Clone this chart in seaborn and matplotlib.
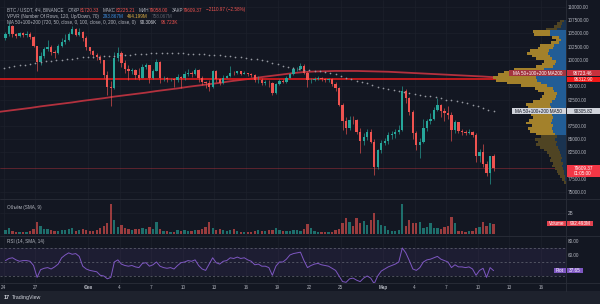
import matplotlib
matplotlib.use("Agg")
import matplotlib.pyplot as plt
import matplotlib.dates as mdates
from matplotlib.patches import Rectangle
from matplotlib.lines import Line2D
import seaborn as sns
import numpy as np
import pandas as pd

# ---------------- data (BTC/USDT) ----------------
# 8h candles starting 2025-01-24 00:00, prices in thousands of USDT
first_open_k = 104.1
close_k = [
    104.9, 106.4, 104.8,  104.6, 105.0, 104.7,  104.9, 104.4, 102.6,  # Jan 24-26
    99.6, 100.8, 102.1,   102.4, 101.4, 101.3,  102.6, 103.4, 103.7,  # Jan 27-29
    104.9, 105.8, 104.7,  105.2, 104.2, 102.4,                        # Jan 30-31
    101.6, 100.9, 100.6,  99.9, 97.2, 94.9,     94.6, 100.4, 101.3,   # Feb 1-3
    99.4, 98.3, 97.9,     98.0, 97.2, 96.6,     98.7, 99.0, 96.5,     # Feb 4-6
    97.9, 99.6, 96.5,     96.6, 96.3, 96.4,     96.1, 96.8, 96.5,     # Feb 7-9
    97.4, 97.6, 97.4,     98.0, 96.6, 95.8,     95.6, 94.9, 97.9,     # Feb 10-12
    96.4, 95.6, 96.6,     96.9, 97.6, 97.5,     97.8, 97.4, 97.6,     # Feb 13-15
    97.3, 97.1, 96.1,     96.2, 95.7, 95.7,     95.6, 93.8, 95.5,     # Feb 16-18
    96.0, 95.9, 96.6,     97.3, 98.2, 98.3,     98.8, 97.6, 96.1,     # Feb 19-21
    96.2, 96.4, 96.6,     96.4, 96.2, 96.3,     95.5, 94.6, 91.5,     # Feb 22-24
    88.4, 87.2, 88.7,     88.6, 86.3, 84.7,     85.5, 86.4, 84.4,     # Feb 25-27
    79.8, 82.9, 84.3,                                                 # Feb 28
    84.6, 85.7, 86.0,     86.4, 86.8, 94.2,     92.7, 90.1, 86.1,     # Mar 1-3
    83.9, 84.5, 87.2,     88.4, 88.9, 90.6,     91.5, 90.3, 89.9,     # Mar 4-6
    89.6, 86.7, 88.2,     86.6, 86.3, 86.2,     86.3, 85.7, 81.9,     # Mar 7-9
    82.6, 80.3, 78.6,     81.72, 79.609,                              # Mar 10-11
]
high_k = [
    105.2, 107.1, 106.6,  105.1, 105.3, 105.2,  105.4, 105.3, 104.6,
    102.7, 101.4, 102.5,  103.8, 102.9, 101.9,  103.0, 104.1, 104.8,
    105.3, 106.5, 106.1,  106.0, 105.5, 104.6,
    102.5, 101.8, 101.3,  100.9, 100.0, 97.9,   96.0, 101.4, 102.5,
    101.6, 99.9, 99.0,    98.4, 98.2, 98.5,     99.2, 99.4, 99.1,
    98.3, 100.1, 99.8,    96.9, 96.8, 96.6,     96.6, 97.3, 97.0,
    97.8, 98.3, 97.9,     98.5, 98.2, 96.9,     96.0, 96.1, 98.1,
    98.0, 96.5, 97.2,     97.2, 98.8, 97.9,     97.9, 97.9, 97.8,
    97.6, 97.6, 97.3,     97.0, 96.5, 96.1,     96.1, 95.8, 95.7,
    96.4, 96.3, 96.9,     97.5, 98.6, 98.7,     99.5, 99.2, 97.9,
    96.6, 96.7, 96.9,     96.8, 96.6, 96.5,     96.5, 95.9, 94.8,
    91.8, 89.2, 89.4,     89.3, 88.9, 87.2,     86.1, 87.0, 86.9,
    85.0, 83.2, 84.8,
    85.2, 86.4, 86.6,     86.9, 87.6, 95.0,     94.4, 92.9, 90.5,
    86.6, 85.3, 88.9,     88.9, 89.9, 91.0,     92.8, 91.6, 90.9,
    91.3, 90.2, 88.6,     88.3, 86.9, 86.7,     86.9, 86.6, 86.2,
    83.2, 84.0, 80.9,     81.9, 82.225,
]
low_k = [
    103.8, 104.6, 104.4,  104.2, 104.4, 104.3,  104.4, 104.0, 102.4,
    97.8, 99.0, 100.4,    101.6, 100.9, 100.3,  101.2, 102.4, 103.0,
    103.6, 104.8, 104.5,  104.6, 103.6, 101.9,
    101.2, 100.3, 99.9,   99.4, 96.6, 93.4,     91.2, 94.5, 99.8,
    98.7, 97.6, 96.2,     97.3, 96.4, 96.1,     96.5, 98.2, 95.7,
    96.3, 97.8, 95.6,     96.0, 95.9, 96.0,     94.9, 95.8, 94.7,
    96.2, 96.9, 96.8,     97.2, 95.8, 95.2,     94.7, 94.1, 94.6,
    95.9, 95.2, 95.4,     96.5, 96.8, 97.1,     97.3, 97.2, 97.3,
    96.9, 96.8, 95.9,     95.6, 95.3, 95.2,     94.9, 93.4, 93.6,
    95.3, 95.6, 95.6,     96.5, 97.2, 97.8,     98.0, 97.4, 94.9,
    95.7, 96.0, 96.2,     96.0, 95.8, 95.9,     95.1, 94.1, 91.2,
    86.7, 86.0, 86.8,     87.9, 85.9, 82.3,     83.9, 84.9, 84.2,
    78.3, 79.4, 82.4,
    83.9, 84.1, 85.0,     85.3, 85.9, 86.5,     91.8, 89.5, 85.0,
    82.9, 81.5, 84.2,     86.6, 87.8, 88.6,     90.4, 89.1, 88.4,
    88.9, 84.7, 86.2,     86.1, 85.8, 85.8,     85.9, 85.4, 80.6,
    80.6, 79.8, 78.0,     76.6, 79.058,
]
volume_b = [  # billions USDT
    0.35, 0.55, 0.3,   0.2, 0.2, 0.15,   0.2, 0.25, 0.5,
    1.15, 0.75, 0.5,   0.45, 0.35, 0.3,  0.3, 0.4, 0.35,
    0.45, 0.55, 0.3,   0.35, 0.5, 0.4,
    0.3, 0.3, 0.35,    0.55, 0.75, 1.0,  2.86, 1.3, 0.7,
    0.9, 0.55, 0.45,   0.4, 0.5, 0.45,   0.55, 0.5, 0.7,
    0.45, 1.15, 0.5,   0.3, 0.25, 0.2,   0.2, 0.35, 0.3,
    0.35, 0.3, 0.3,    0.4, 0.35, 0.5,   0.65, 1.1, 0.55,
    0.4, 0.45, 0.4,    0.3, 0.35, 0.5,   0.3, 0.2, 0.2,
    0.2, 0.2, 0.25,    0.35, 0.3, 0.3,   0.35, 0.4, 0.55,
    0.4, 0.3, 0.25,    0.3, 0.35, 0.4,   0.3, 0.45, 0.95,
    0.6, 0.3, 0.2,     0.15, 0.15, 0.15, 0.2, 0.35, 0.5,
    1.05, 1.5, 1.1,    0.8, 1.5, 1.0,    1.2, 0.9, 1.3,
    2.0, 1.3, 0.9,
    0.8, 0.35, 0.3,    0.3, 0.4, 2.86,   0.8, 1.33, 1.0,
    1.0, 1.17, 0.6,    0.7, 1.0, 0.6,    0.55, 0.5, 0.7,
    0.8, 1.65, 1.0,    0.3, 0.25, 0.2,   0.25, 0.3, 0.6,
    0.7, 1.1, 0.75,    1.0, 0.99,
]
rsi_vals = [
    52, 55, 56,   53, 51, 52,   52, 51, 45,
    28, 39, 41,   42, 40, 43,   47, 56, 60,
    63, 61, 62,   58, 44, 40,
    38, 37, 36,   31, 30, 26,   28, 50, 53,
    47, 45, 44,   45, 43, 42,   48, 49, 44,
    46, 50, 44,   42, 41, 42,   40, 45, 49,
    50, 52, 51,   53, 45, 40,   38, 47, 56,
    49, 47, 51,   52, 56, 55,   57, 55, 56,
    53, 51, 46,   47, 44, 44,   42, 31, 44,
    50, 50, 54,   60, 62, 63,   64, 52, 42,
    45, 47, 48,   46, 45, 44,   41, 38, 30,
    22, 21, 26,   27, 24, 22,   27, 30, 27,
    19, 30, 37,
    40, 43, 45,   47, 50, 70,   63, 52, 40,
    38, 42, 50,   53, 54, 56,   58, 54, 52,
    50, 42, 46,   43, 43, 42,   43, 40, 31,
    38, 41, 28,   42, 37.65,
]
# MA50 (720) plotted as circles, one value per 12h from 2025-01-24 00:00
ma50_k = [
    98.45, 98.6, 98.8, 98.95, 99.1, 99.3, 99.45, 99.6, 99.75, 99.85,
    99.95, 100.05, 100.15, 100.25, 100.35, 100.45, 100.5, 100.55, 100.6, 100.65,
    100.7, 100.8, 100.85, 100.95, 101.0, 101.1, 101.15, 101.2, 101.25, 101.25,
    101.3, 101.3, 101.3, 101.25, 101.25, 101.2, 101.15, 101.1, 101.05, 101.0,
    100.9, 100.85, 100.75, 100.65, 100.55, 100.45, 100.35, 100.25, 100.1, 99.9,
    99.7, 99.45, 99.15, 98.9, 98.6, 98.4, 98.25, 98.15, 98.05, 97.95,
    97.8, 97.7, 97.55, 97.35, 97.0, 96.65, 96.3, 96.05, 95.8, 95.55,
    95.25, 94.95, 94.65, 94.5, 94.35, 94.2, 94.0, 93.75, 93.55, 93.4,
    93.25, 93.1, 92.9, 92.7, 92.5, 92.35, 92.15, 91.95, 91.75, 91.5,
    91.2, 90.85, 90.55, 90.31,
]
# MA200 (720), one value per day (12:00) from 2025-01-23
ma200_k = [
    90.15, 90.4, 90.65, 90.9, 91.2, 91.45, 91.7, 91.95, 92.25,
    92.5, 92.75, 93.05, 93.3, 93.55, 93.8, 94.1, 94.35, 94.6, 94.9,
    95.15, 95.4, 95.65, 95.95, 96.2, 96.45, 96.75, 97.0, 97.25, 97.5,
    97.7, 97.8, 97.85, 97.9, 97.9, 97.9, 97.85, 97.8,
    97.75, 97.65, 97.55, 97.45, 97.35, 97.25, 97.15, 97.05, 96.95, 96.85, 96.72,
]
# volume profile (VPVR), rows from the bottom of the range upwards
vp_low_k = 76.6
vp_row_k = 0.508
vp_up = [0.5, 1, 1.5, 2, 2.5, 3, 4, 3.5, 5, 4.5,
         5, 6, 7, 8, 10, 9, 11, 9, 11, 13,
         14, 13, 15, 14, 13, 14, 16, 17, 15, 16,
         14, 11, 10, 9, 12, 13, 19, 25, 29, 30,
         28, 26, 22, 13, 11, 10, 14, 16, 18, 17,
         13, 12, 7, 5, 7, 16, 16, 9, 5, 4, 2.5]
vp_down = [1.5, 3, 4.5, 6, 6.5, 8, 10, 9.5, 11, 10.5,
           12, 13, 15, 18, 20, 19, 20, 16, 19, 23,
           24, 21, 25, 23, 20, 21, 25, 26, 23, 24,
           19, 15, 14, 13, 16, 18, 26, 34, 41, 43,
           40, 36, 30, 17, 13, 12, 16, 18, 21, 19,
           15, 14, 8, 5, 7, 16, 17, 11, 7, 5, 3.5]
value_area_k = (85.6, 105.8)

level_line = 96312.90
ma200_last = 96723.46
ma50_last = 90305.82
last_close = 79609.37
last_volume_b = 0.992493
last_rsi = 37.65

price_ticks = [110000, 107500, 105000, 102500, 100000, 95000, 92500,
               87500, 85000, 82500, 77500, 75000]
date_ticks = ["2025-01-24", "2025-01-27", "2025-02-01", "2025-02-04", "2025-02-07",
              "2025-02-10", "2025-02-13", "2025-02-16", "2025-02-19", "2025-02-22",
              "2025-02-25", "2025-03-01", "2025-03-04", "2025-03-07", "2025-03-10",
              "2025-03-13", "2025-03-16"]
date_labels = ["24", "27", "Фев", "4", "7", "10", "13", "16", "19", "22", "25",
               "Мар", "4", "7", "10", "13", "16"]

# ---------------- style ----------------
BG = "#131722"
GRID = "#1c202b"
BORDER = "#2a2e39"
TXT = "#b2b5be"
UP = "#26a69a"
DOWN = "#ef5350"
PURPLE = "#7e57c2"

sns.set_theme(style="dark", rc={
    "axes.facecolor": BG, "figure.facecolor": BG, "savefig.facecolor": BG,
    "axes.edgecolor": BG, "grid.color": GRID, "text.color": TXT,
    "xtick.color": TXT, "ytick.color": TXT,
})
plt.rcParams["font.family"] = ["Liberation Sans", "DejaVu Sans"]
FS = 3.3

W, H = 600, 304
fig = plt.figure(figsize=(W / 100, H / 100), dpi=100)


def rect(x0, y0, x1, y1):
    return [x0 / W, 1 - y1 / H, (x1 - x0) / W, (y1 - y0) / H]


ax = fig.add_axes(rect(0, 0, 566, 199))
axv = fig.add_axes(rect(0, 199, 566, 236), sharex=ax)
axr = fig.add_axes(rect(0, 236, 566, 283), sharex=ax)

# ---------------- frame ----------------
df = pd.DataFrame({
    "time": pd.date_range("2025-01-24 04:00", periods=len(close_k), freq="8h"),
    "close": np.array(close_k) * 1000,
    "high": np.array(high_k) * 1000,
    "low": np.array(low_k) * 1000,
    "volume": volume_b,
    "rsi": rsi_vals,
})
df["open"] = np.r_[first_open_k * 1000, df["close"].values[:-1]]
df["x"] = mdates.date2num(df["time"])
df["up"] = df["close"] >= df["open"]
col = np.where(df["up"], UP, DOWN)

feb1 = mdates.date2num(pd.Timestamp("2025-02-01"))
px_day = 10.535
ax.set_xlim(feb1 - 88 / px_day, feb1 + 478 / px_day)
ax.set_ylim(73678, 111324)
axv.set_ylim(-0.19, 3.33)
axr.set_ylim(20, 87.1)

tick_x = mdates.date2num(pd.to_datetime(date_ticks))
for a in (ax, axv, axr):
    for s in a.spines.values():
        s.set_visible(False)
    a.set_xticks(tick_x)
    a.grid(True, axis="x", color=GRID, lw=0.5)
    a.tick_params(axis="both", length=0, labelsize=FS, labelcolor=TXT)
ax.tick_params(axis="x", labelbottom=False)
axv.tick_params(axis="x", labelbottom=False)

ax.yaxis.tick_right()
ax.set_yticks(price_ticks)
ax.set_yticklabels([f"{v:.2f}" for v in price_ticks])
ax.tick_params(axis="y", pad=1.5)
ax.grid(True, axis="y", color=GRID, lw=0.5)

axv.yaxis.tick_right()
axv.set_yticks([2])
axv.set_yticklabels(["2B"])
axv.tick_params(axis="y", pad=1.5)

axr.yaxis.tick_right()
axr.set_yticks([80, 60])
axr.set_yticklabels(["80.00", "60.00"])
axr.tick_params(axis="y", pad=1.5)

# ---------------- main pane ----------------
ax.axhline(last_close, color="#b7333d", lw=0.45, alpha=0.7, zorder=2)
sns.lineplot(x=mdates.date2num(pd.date_range("2025-01-23 12:00", periods=len(ma200_k), freq="D")),
             y=np.array(ma200_k) * 1000, ax=ax, color="#b3313e", lw=1.3, zorder=2)
ax.axhline(level_line, color="#f01c1c", lw=1.1, zorder=2)
sns.scatterplot(x=mdates.date2num(pd.date_range("2025-01-24", periods=len(ma50_k), freq="12h")),
                y=np.array(ma50_k) * 1000, ax=ax, s=1.5, color="#9598a1", linewidth=0, zorder=4)

ax.vlines(df["x"], df["low"], df["high"], colors=col, lw=0.45, zorder=3)
body = np.maximum((df["close"] - df["open"]).abs(), 60)
ax.bar(df["x"], body, bottom=np.minimum(df["open"], df["close"]), width=0.22,
       color=col, lw=0, zorder=3)
ax.set_xlabel("")
ax.set_ylabel("")

# volume profile, anchored to the right edge of the price pane
axp = fig.add_axes(rect(0, 0, 566, 199), sharey=ax)
axp.set_facecolor("none")
axp.axis("off")
vp = pd.DataFrame({"up": vp_up, "down": vp_down})
vp["price"] = (vp_low_k + vp_row_k * (np.arange(len(vp)) + 0.5)) * 1000
inside = (vp["price"] >= value_area_k[0] * 1000) & (vp["price"] <= value_area_k[1] * 1000)
blue = np.where(inside, "#225d96", "#1a3350")
gold = np.where(inside, "#a3812b", "#4f4423")
axp.barh(vp["price"], vp["up"], height=vp_row_k * 1000, color=blue, lw=0)
axp.barh(vp["price"], vp["down"], left=vp["up"], height=vp_row_k * 1000, color=gold, lw=0)
vmax = (vp["up"] + vp["down"]).max()
axp.set_xlim(vmax * 566 / 73, 0)
axp.set_ylim(ax.get_ylim())

# ---------------- volume pane ----------------
axv.grid(True, axis="y", color=GRID, lw=0.5)
axv.bar(df["x"], df["volume"], width=0.22, color=col, alpha=0.62, lw=0)

# ---------------- RSI pane ----------------
axr.axhspan(30, 70, color=PURPLE, alpha=0.1, lw=0)
for lv in (70, 50, 30):
    axr.axhline(lv, color="#787b86", lw=0.5, ls=(0, (3, 3)), alpha=0.8)
sns.lineplot(x=df["x"], y=df["rsi"], ax=axr, color=PURPLE, lw=0.7)
axr.set_xlabel("")
axr.set_ylabel("")
axr.set_xticks(tick_x)
axr.set_xticklabels(date_labels)
axr.tick_params(axis="x", pad=1.6)
for lbl in axr.get_xticklabels():
    if lbl.get_text() in ("Фев", "Мар"):
        lbl.set_fontweight("bold")

# ---------------- frame lines / bottom strip ----------------
for yy in (199, 236, 283):
    fig.add_artist(Line2D([0, 1], [1 - yy / H] * 2, color=BORDER, lw=0.6))
fig.add_artist(Line2D([566 / W] * 2, [1 - 291 / H, 1], color=BORDER, lw=0.6))
fig.add_artist(Rectangle((0, 0), 1, 13 / H, transform=fig.transFigure,
                         fc="#1e222d", ec="none"))
fig.text(3.5 / W, 1 - 297.5 / H, "17", color="#d1d4dc", fontsize=4.0,
         fontweight="bold", ha="left", va="center")
fig.text(12 / W, 1 - 297.5 / H, "TradingView", color="#d1d4dc", fontsize=3.8,
         ha="left", va="center")


# ---------------- legend lines ----------------
def header(y_px, parts, x_px=7.3):
    prev = None
    for s, c, gap in parts:
        if prev is None:
            prev = fig.text(x_px / W, 1 - y_px / H, s, color=c, fontsize=FS,
                            ha="left", va="center")
        else:
            prev = ax.annotate(s, xy=(1, 0.5), xycoords=prev, xytext=(gap, 0),
                               textcoords="offset points", ha="left", va="center",
                               color=c, fontsize=FS, annotation_clip=False)


RED = "#ef5350"
header(10, [("BTC / USDT, 4Ч, BINANCE", TXT, 0), ("ОТКР", TXT, 2.5), ("81720.33", RED, 0),
            ("МАКС", TXT, 2.5), ("82225.21", RED, 0), ("МИН", TXT, 2.5), ("79058.00", RED, 0),
            ("ЗАКР", TXT, 2.5), ("79609.37", RED, 0), ("−2110.97 (−2.58%)", RED, 2.5)])
header(16.3, [("VPVR (Number Of Rows, 120, Up/Down, 70)", TXT, 0), ("293.867M", "#3d8ee0", 2.5),
              ("464.199M", "#e3b341", 2.5), ("758.067M", "#5d606b", 2.5)])
header(22.7, [("MA 50+100+200 (720, 50, close, 0, 100, close, 0, 200, close, 0)", TXT, 0),
              ("90.306K", "#d1d4dc", 2.5), ("96.723K", RED, 2.5)])
header(207, [("Объём (SMA, 9)", TXT, 0), ("992.493M", RED, 2.5)])
header(242, [("RSI (14, SMA, 14)", TXT, 0), ("37.65", "#9575cd", 2.5)])


# ---------------- right-hand value tags ----------------
def py(axis, v):
    return H - axis.transData.transform((axis.get_xlim()[0], v))[1]


def box(x0, x1, ymid, txt, fc, tc="white", h=5.6):
    fig.add_artist(Rectangle((x0 / W, 1 - (ymid + h / 2) / H), (x1 - x0) / W, h / H,
                             transform=fig.transFigure, fc=fc, ec="none", zorder=5))
    fig.text((x0 + x1) / 2 / W, 1 - ymid / H, txt, color=tc, fontsize=FS,
             ha="center", va="center", zorder=6)


y200 = py(ax, ma200_last) - 4
box(509, 565.5, y200, "MA 50+100+200 MA200", "#a3343f")
box(566.5, 599.5, y200, f"{ma200_last:.2f}", "#c9303c")
box(566.5, 599.5, py(ax, level_line), f"{level_line:.2f}", "#f01818")
y50 = py(ax, ma50_last)
box(512, 565.5, y50, "MA 50+100+200 MA50", "#d1d4dc", tc=BG)
box(566.5, 599.5, y50, f"{ma50_last:.2f}", "#d1d4dc", tc=BG)
ylc = py(ax, last_close)
fig.add_artist(Rectangle((566.5 / W, 1 - (ylc + 9) / H), 33 / W, 11.5 / H,
                         transform=fig.transFigure, fc="#f23645", ec="none", zorder=5))
fig.text(583 / W, 1 - (ylc + 0.5) / H, f"{last_close:.2f}", color="white", fontsize=FS,
         ha="center", va="center", zorder=6)
fig.text(583 / W, 1 - (ylc + 5.8) / H, "01:05:00", color="white", fontsize=FS,
         ha="center", va="center", zorder=6)
yv = py(axv, last_volume_b)
box(547, 565.5, yv, "Volume", "#e2424f")
box(566.5, 593, yv, f"{last_volume_b * 1000:.3f}M", "#e2424f")
yr = py(axr, last_rsi)
box(554, 565.5, yr, "Plot", PURPLE)
box(566.5, 583, yr, f"{last_rsi:.2f}", PURPLE)

fig.savefig("out.png", dpi=100, facecolor=BG)
